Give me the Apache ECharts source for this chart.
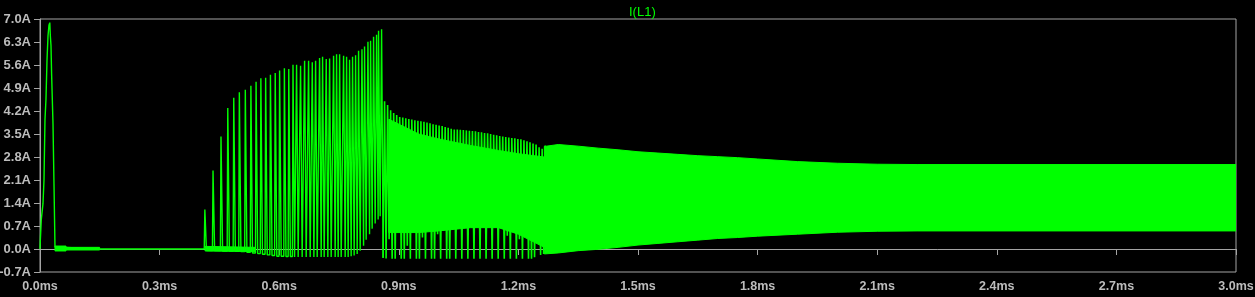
<!DOCTYPE html>
<html>
<head>
<meta charset="utf-8">
<script src="https://cdn.jsdelivr.net/npm/echarts@6/dist/echarts.min.js"></script>
<style>
html,body{margin:0;padding:0;background:#000;}
#chart{width:1255px;height:297px;}
</style>
</head>
<body>
<div id="chart"></div>
<script>
// ---------------- data ----------------
const seriesName = 'I(L1)';
const xTickLabels = ['0.0ms','0.3ms','0.6ms','0.9ms','1.2ms','1.5ms','1.8ms','2.1ms','2.4ms','2.7ms','3.0ms'];
const yTickLabels = ['-0.7A','0.0A','0.7A','1.4A','2.1A','2.8A','3.5A','4.2A','4.9A','5.6A','6.3A','7.0A'];

// start-up pulse (ms, A)
const startTime    = [0, 0.0008, 0.0033, 0.0075, 0.0100, 0.0125, 0.0150, 0.0176, 0.0201, 0.0226, 0.0246, 0.0259, 0.0276, 0.0291, 0.0326, 0.0351, 0.0376, 0.0400, 0.1500, 0.4120];
const startCurrent = [0, 0.26, 0.90, 1.38, 2.09, 3.94, 4.56, 5.76, 6.49, 6.82, 6.89, 6.49, 6.19, 5.33, 3.81, 1.96, 0.06, 0.00, 0.00, 0.00];

// ringing just after the start-up pulse (band)
const ringTime = [0.0376, 0.0652, 0.0652, 0.1495];
const ringLow  = [-0.06, -0.06, -0.03, -0.03];
const ringHigh = [0.09, 0.09, 0.05, 0.05];

// small ringing at the foot of the first burst cycles (band)
const footTime = [0.414, 0.540];
const footLow  = [-0.06, -0.08];
const footHigh = [0.08, 0.05];

// burst cycles 0.41 .. 0.86 ms : peak time, peak current, current after fall
const burstPeakTime = [0.4135,0.4340,0.4540,0.4710,0.4860,0.5000,0.5150,0.5290,0.5420,0.5540,0.5660,0.5780,0.5900,0.6010,0.6130,0.6240,0.6346,0.6436,0.6536,0.6637,0.6737,0.6830,0.6913,0.7013,0.7088,0.7180,0.7264,0.7364,0.7439,0.7515,0.7615,0.7690,0.7765,0.7840,0.7916,0.7991,0.8076,0.8141,0.8226,0.8292,0.8367,0.8442,0.8492,0.8568];
const burstPeak     = [1.20,2.39,3.42,4.29,4.60,4.77,4.85,4.97,5.09,5.20,5.21,5.30,5.36,5.43,5.50,5.48,5.61,5.61,5.58,5.73,5.73,5.68,5.73,5.81,5.85,5.78,5.80,5.88,5.93,5.93,5.88,5.85,5.76,5.85,5.90,6.03,6.08,6.16,6.31,6.34,6.46,6.52,6.64,6.69];
const burstTrough   = [-0.05,-0.05,-0.06,-0.06,-0.07,-0.08,-0.10,-0.12,-0.14,-0.16,-0.18,-0.20,-0.22,-0.22,-0.23,-0.23,-0.24,-0.24,-0.24,-0.24,-0.24,-0.24,-0.24,-0.24,-0.24,-0.24,-0.24,-0.24,-0.24,-0.24,-0.24,-0.24,-0.22,-0.20,-0.15,-0.05,0.10,0.28,0.45,0.62,0.78,0.90,1.00,-0.27];

// dense cycles 0.86 .. 1.27 ms (sampled every half cycle)
const denseStart  = 0.8605;
const denseStep   = 0.0038;
const denseTrough = [-0.27,-0.29,0.30,-0.30,-0.30,0.55,-0.30,-0.30,0.10,-0.30,0.60,-0.30,-0.30,0.35,-0.30,0.80,-0.30,-0.30,0.45,-0.30,1.00,-0.30,-0.30,0.60,-0.30,1.10,-0.30,1.20,-0.30,1.15,-0.30,1.25,-0.30,1.20,-0.30,1.10,-0.30,0.70,-0.30,1.00,-0.30,0.40,-0.30,0.90,-0.30,0.30,-0.30,0.60,-0.30,-0.30,-0.25,0.20,-0.18,-0.15,-0.12];
const densePeak   = [4.50,4.38,4.22,4.14,4.08,4.02,4.00,3.98,3.96,3.94,3.92,3.90,3.89,3.87,3.85,3.83,3.80,3.78,3.76,3.74,3.71,3.69,3.66,3.64,3.64,3.63,3.62,3.61,3.60,3.59,3.58,3.56,3.55,3.53,3.52,3.50,3.48,3.46,3.44,3.42,3.41,3.39,3.38,3.37,3.35,3.34,3.31,3.28,3.25,3.21,3.18,3.10,3.05,3.15];

// ripple envelope (band) 0.875 .. 3.0 ms
const bandTime = [0.875, 0.95, 1.00, 1.08, 1.15, 1.20, 1.265, 1.265, 1.30, 1.35, 1.40, 1.45, 1.50, 1.55, 1.60, 1.65, 1.70, 1.75, 1.80, 1.90, 2.00, 2.10, 2.20, 3.00];
const bandHigh = [3.95, 3.50, 3.35, 3.15, 3.00, 2.90, 2.80, 3.12, 3.18, 3.13, 3.07, 3.02, 2.96, 2.92, 2.88, 2.84, 2.81, 2.78, 2.74, 2.66, 2.61, 2.58, 2.57, 2.57];
const bandLow  = [0.50, 0.50, 0.55, 0.65, 0.65, 0.45, 0.05, -0.15, -0.12, -0.05, -0.01, 0.05, 0.12, 0.17, 0.22, 0.27, 0.32, 0.35, 0.39, 0.45, 0.51, 0.54, 0.55, 0.55];

// ---------------- build ----------------
const GREEN = '#00ff00';
const AXIS = '#a4a4a4';
const LABEL = '#bcbcbc';
const RISE = 0.0015, FALL = 0.004;

const mainData = startTime.map((t, i) => [t, startCurrent[i]]);
burstPeakTime.forEach((t, k) => {
  const prev = k === 0 ? 0 : burstTrough[k - 1];
  mainData.push([t - RISE, prev]);
  mainData.push([t, burstPeak[k]]);
  mainData.push([t + FALL, burstTrough[k]]);
});

const denseData = [];
denseTrough.forEach((v, k) => {
  denseData.push([denseStart + 2 * k * denseStep, v]);
  if (k < densePeak.length) denseData.push([denseStart + (2 * k + 1) * denseStep, densePeak[k]]);
});

function bandSeries(times, lows, highs) {
  return {
    type: 'custom',
    silent: true,
    clip: true,
    coordinateSystem: 'cartesian2d',
    data: [[times[0], lows[0]]],
    renderItem: function (params, api) {
      const pts = [];
      for (let i = 0; i < times.length; i++) pts.push(api.coord([times[i], highs[i]]));
      for (let i = times.length - 1; i >= 0; i--) pts.push(api.coord([times[i], lows[i]]));
      return { type: 'polygon', shape: { points: pts }, style: { fill: GREEN, stroke: GREEN, lineWidth: 1 } };
    }
  };
}

const fmt = (v, unit) => (Math.abs(v) < 1e-9 ? 0 : v).toFixed(1) + unit;
const labelFont = { color: LABEL, fontWeight: 'bold', fontFamily: 'Liberation Sans' };

const chart = echarts.init(document.getElementById('chart'), null, { renderer: 'canvas' });
chart.setOption({
  backgroundColor: '#000',
  animation: false,
  title: {
    text: seriesName, left: 624, top: 1,
    textStyle: { color: GREEN, fontSize: 13, fontWeight: 'normal', fontFamily: 'Liberation Sans' }
  },
  grid: { left: 40, right: 19, top: 19, bottom: 25, containLabel: false, outerBoundsMode: 'none', show: true, borderColor: AXIS, borderWidth: 1, backgroundColor: 'transparent' },
  xAxis: {
    type: 'value', min: 0, max: 3.0, interval: 0.3,
    axisLine: { show: true, lineStyle: { color: AXIS } },
    axisTick: { show: true, length: 6, lineStyle: { color: AXIS } },
    splitLine: { show: false },
    axisLabel: Object.assign({ fontSize: 12.5, margin: 8, formatter: v => xTickLabels[Math.round(v / 0.3)] || fmt(v, 'ms') }, labelFont)
  },
  yAxis: {
    type: 'value', min: -0.7, max: 7.0, interval: 0.7,
    axisLine: { show: true, lineStyle: { color: AXIS } },
    axisTick: { show: true, length: 6, lineStyle: { color: AXIS } },
    splitLine: { show: false },
    axisLabel: Object.assign({ fontSize: 13, margin: 9, formatter: v => yTickLabels[Math.round((v + 0.7) / 0.7)] || fmt(v, 'A') }, labelFont)
  },
  series: [
    bandSeries(ringTime, ringLow, ringHigh),
    bandSeries(footTime, footLow, footHigh),
    bandSeries(bandTime, bandLow, bandHigh),
    { name: seriesName, type: 'line', data: mainData, symbol: 'none', sampling: false, lineStyle: { color: GREEN, width: 1.4 }, clip: true },
    { name: seriesName, type: 'line', data: denseData, symbol: 'none', sampling: false, lineStyle: { color: GREEN, width: 1.6 }, clip: true }
  ]
});
</script>
</body>
</html>
